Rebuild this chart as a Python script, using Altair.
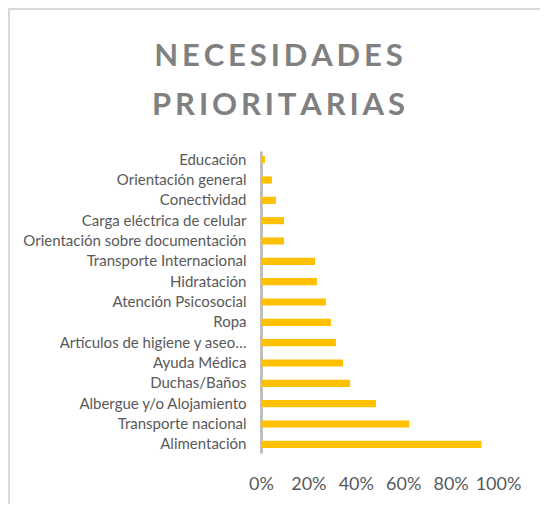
import altair as alt
import pandas as pd

categories = [
    "Educación",
    "Orientación general",
    "Conectividad",
    "Carga eléctrica de celular",
    "Orientación sobre documentación",
    "Transporte Internacional",
    "Hidratación",
    "Atención Psicosocial",
    "Ropa",
    "Artículos de higiene y aseo…",
    "Ayuda Médica",
    "Duchas/Baños",
    "Albergue y/o Alojamiento",
    "Transporte nacional",
    "Alimentación",
]
values = [0.017, 0.046, 0.063, 0.097, 0.097, 0.228, 0.236, 0.274, 0.295,
          0.316, 0.346, 0.376, 0.485, 0.625, 0.93]
x_ticks = [0, 0.2, 0.4, 0.6, 0.8, 1.0]
gap = "\u200a\u200a"
title_lines = [gap.join("NECESIDADES"), gap.join("PRIORITARIAS")]

df = pd.DataFrame({"cat": categories, "val": values})

bars = alt.Chart(df).mark_bar(color="#FFC000").encode(
    y=alt.Y("cat:N", sort=categories, title=None,
            scale=alt.Scale(paddingInner=0.65, paddingOuter=0.25),
            axis=alt.Axis(ticks=False, labelPadding=15, labelFontSize=15,
                          labelColor="#595959", labelFont="Lato", labelLimit=400,
                          domainColor="#bfbfbf", domainWidth=3, grid=False)),
    x=alt.X("val:Q", title=None,
            scale=alt.Scale(domain=[0, 1], nice=False),
            axis=alt.Axis(values=x_ticks, format=".0%", ticks=False, domain=False,
                          grid=False, labelFontSize=18, labelColor="#595959",
                          labelFont="Lato", labelPadding=22, labelFlush=False)),
)

border = alt.Chart(df).mark_rect(fill=None, stroke="#d9d9d9", strokeWidth=2).encode(
    x=alt.value(-252), x2=alt.value(400),
    y=alt.value(-142), y2=alt.value(500),
)

chart = alt.layer(border, bars).properties(
    width=237,
    height=302,
    padding={"left": 253, "top": 143, "right": 42, "bottom": 51},
    autosize=alt.AutoSizeParams(type="none"),
    title=alt.TitleParams(
        text=title_lines, font="Lato", fontSize=31, fontWeight="bold",
        color="#808080", anchor="middle", frame="group", dx=-101, dy=114,
        lineHeight=49, offset=0,
    ),
).configure_view(stroke=None)

chart.save("out.html", embed_options={"renderer": "svg", "actions": False})
